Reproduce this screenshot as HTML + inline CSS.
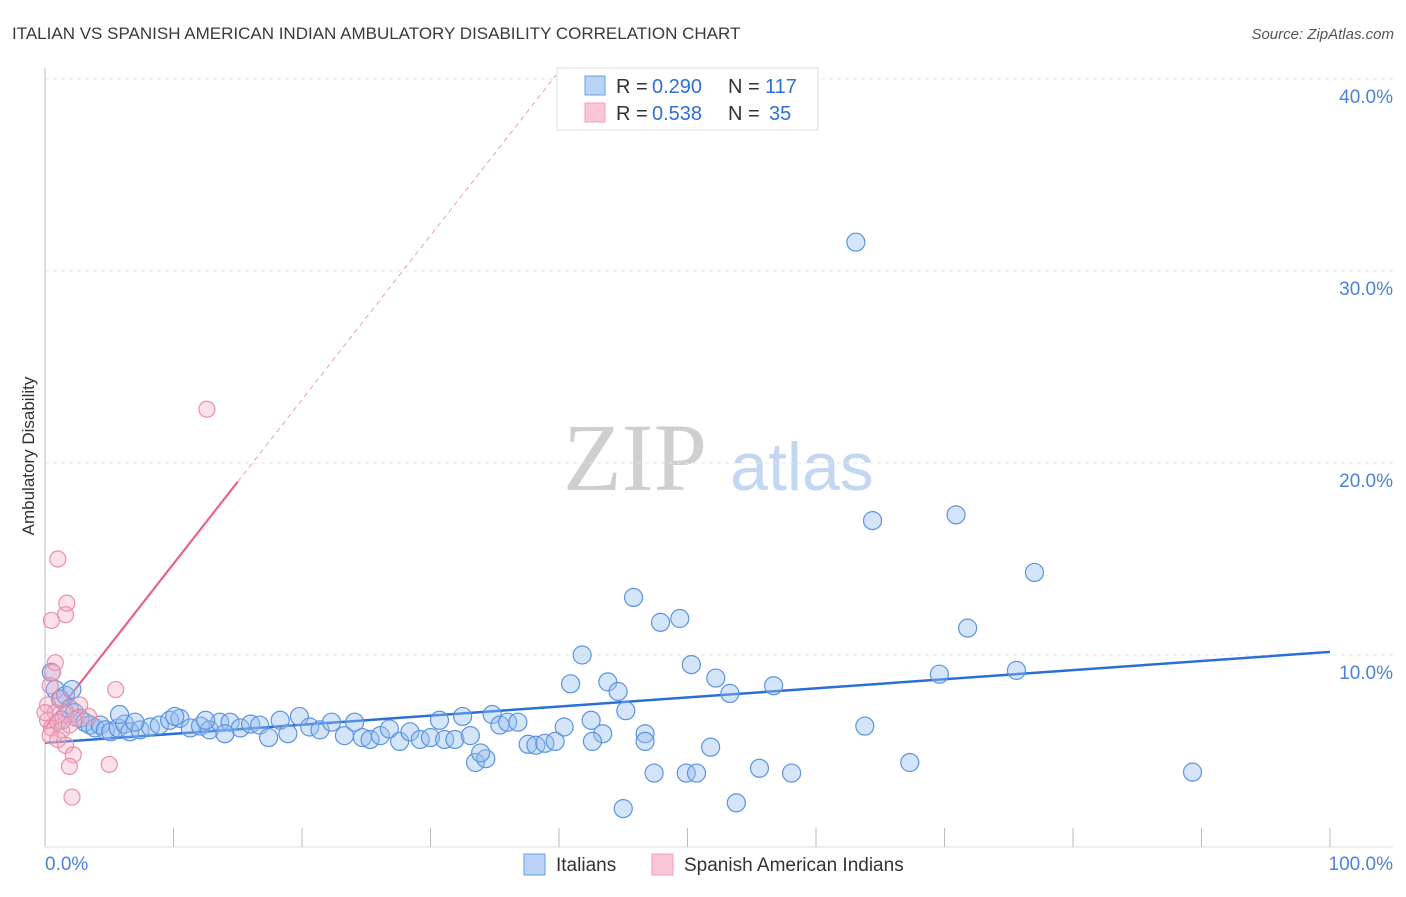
<!DOCTYPE html>
<html><head><meta charset="utf-8">
<style>
body{margin:0;background:#fff;font-family:"Liberation Sans",sans-serif;}
</style></head>
<body>
<svg id="chart" width="1406" height="892" viewBox="0 0 1406 892" font-family="Liberation Sans, sans-serif">
<text x="12" y="39" font-size="17" fill="#3a3a3a">ITALIAN VS SPANISH AMERICAN INDIAN AMBULATORY DISABILITY CORRELATION CHART</text>
<text x="1394" y="39" font-size="15" fill="#555" text-anchor="end" font-style="italic">Source: ZipAtlas.com</text>
<text transform="translate(34,456) rotate(-90)" font-size="17" fill="#333" text-anchor="middle">Ambulatory Disability</text>
<g>
<text x="635" y="490" font-size="96" fill="#cfcfcf" text-anchor="middle" style="font-family:'Liberation Serif',serif">ZIP</text>
<text x="802" y="490" font-size="68" fill="#c4d7f2" text-anchor="middle">atlas</text>
</g>
<g id="grid"></g>
<g id="axes"></g>
<g id="trend"></g>
<g id="points"></g>
<g>
<rect x="557" y="68" width="261" height="62" fill="#fff" stroke="#ddd"/>
<rect x="585" y="76" width="20" height="19" fill="#b8d3f5" stroke="#6a9fe0"/>
<rect x="585" y="103" width="20" height="19" fill="#fac6d6" stroke="#eea0b8"/>
<text x="616" y="93" font-size="20" fill="#333">R =</text>
<text x="652" y="93" font-size="20" fill="#2f6fd6">0.290</text>
<text x="728" y="93" font-size="20" fill="#333">N =</text>
<text x="765" y="93" font-size="20" fill="#2f6fd6">117</text>
<text x="616" y="120" font-size="20" fill="#333">R =</text>
<text x="652" y="120" font-size="20" fill="#2f6fd6">0.538</text>
<text x="728" y="120" font-size="20" fill="#333">N =</text>
<text x="769" y="120" font-size="20" fill="#2f6fd6">35</text>
</g>
<g>
<rect x="524" y="854" width="21" height="21" fill="#b8d3f5" stroke="#6a9fe0"/>
<text x="556" y="871" font-size="19" fill="#333">Italians</text>
<rect x="652" y="854" width="21" height="21" fill="#fac6d6" stroke="#eea0b8"/>
<text x="684" y="871" font-size="19" fill="#333">Spanish American Indians</text>
</g>
</svg>
<script>
const yTicks=[10,20,30,40];
const yTickLabels=["10.0%","20.0%","30.0%","40.0%"];
const xEndLabels=["0.0%","100.0%"];
const blueX=[63.1,64.4,70.9,77.0,71.8,45.8,47.9,49.4,41.8,50.3,52.2,40.9,43.8,44.6,53.3,56.7,69.6,75.6,45.2,63.8,42.5,43.4,42.6,46.7,46.7,51.8,40.4,47.4,49.9,50.7,55.6,58.1,67.3,89.3,45.0,53.8,33.5,34.3,33.9,
0.5,0.8,1.2,1.6,1.9,2.3,2.7,3.1,3.5,3.9,4.3,4.7,5.1,5.7,6.2,6.6,7.4,8.2,8.9,9.7,10.5,11.3,12.1,12.8,13.6,14.4,15.2,16.0,16.7,17.4,18.3,18.9,19.8,20.6,21.4,22.3,23.3,24.1,24.7,25.3,26.1,26.8,27.6,28.4,29.2,30.0,30.7,31.1,31.9,32.5,33.1,34.8,35.4,36.0,36.8,37.6,38.2,38.9,39.7,1.3,2.1,5.8,7.0,10.1,12.5,14.0];
const blueY=[31.5,17.0,17.3,14.3,11.4,13.0,11.7,11.9,10.0,9.5,8.8,8.5,8.6,8.1,8.0,8.4,9.0,9.2,7.1,6.3,6.6,5.9,5.5,5.9,5.5,5.2,6.25,3.85,3.85,3.85,4.1,3.85,4.4,3.9,2.0,2.3,4.4,4.6,4.9,
9.1,8.2,7.7,7.9,7.2,7.0,6.7,6.5,6.35,6.2,6.35,6.1,6.0,6.2,6.4,6.0,6.1,6.25,6.35,6.6,6.7,6.2,6.3,6.1,6.5,6.5,6.2,6.4,6.35,5.7,6.6,5.9,6.8,6.25,6.1,6.5,5.8,6.5,5.7,5.6,5.8,6.15,5.5,6.0,5.6,5.7,6.6,5.6,5.6,6.8,5.8,6.9,6.35,6.5,6.5,5.35,5.3,5.4,5.5,6.6,8.2,6.9,6.5,6.8,6.6,5.9];
const pinkX=[12.6,1.0,1.7,1.6,0.5,0.8,0.6,5.5,0.4,1.2,0.2,0.8,1.6,0.2,0.5,1.0,1.3,1.9,2.4,3.4,0.4,1.6,2.2,1.9,5.0,2.1,1.0,2.7,0.0];
const pinkY=[22.8,15.0,12.7,12.1,11.8,9.6,9.1,8.2,8.4,7.7,7.4,7.0,6.9,6.6,6.2,6.5,6.1,6.35,6.7,6.8,5.8,5.3,4.8,4.2,4.3,2.6,5.6,7.4,7.0];
const blueTrend=[5.42,10.16];
const pinkTrend=[6.2,91.7];
const pinkSolidEnd=15;

const X0=45,X1=1330,Y0=847,PX10=19.2;
const sx=v=>X0+(X1-X0)*v/100;
const sy=v=>Y0-PX10*v;
const NS="http://www.w3.org/2000/svg";
function mk(tag,attrs,parent){const e=document.createElementNS(NS,tag);for(const k in attrs)e.setAttribute(k,attrs[k]);document.getElementById(parent).appendChild(e);return e;}

yTicks.forEach((t,i)=>{
  const l=mk('line',{x1:X0,x2:1393,y1:sy(t),y2:sy(t),stroke:'#e4e4e4','stroke-dasharray':'4,4'},'grid');
  
  
  const tx=mk('text',{x:1393,y:sy(t)+24,'font-size':19,fill:'#4a82dc','text-anchor':'end'},'grid');
  tx.textContent=yTickLabels[i];
  
  
});
const ax=mk('line',{x1:X0,x2:X0,y1:68,y2:Y0,stroke:'#bbb'},'axes');


const bx=mk('line',{x1:X0,x2:1393,y1:Y0,y2:Y0,stroke:'#ddd'},'axes');


for(let i=1;i<=10;i++){
  const t=mk('line',{x1:sx(i*10),x2:sx(i*10),y1:828,y2:Y0,stroke:'#bbb'},'axes');
  
  
}
const xl0=mk('text',{x:45,y:870,'font-size':19,fill:'#4a82dc'},'axes');xl0.textContent=xEndLabels[0];


const xl1=mk('text',{x:1393,y:870,'font-size':19,fill:'#4a82dc','text-anchor':'end'},'axes');xl1.textContent=xEndLabels[1];



const bt=mk('line',{x1:sx(0),y1:sy(blueTrend[0]),x2:sx(100),y2:sy(blueTrend[1]),stroke:'#2a6fd6','stroke-width':2.5},'trend');


const pv=x=>pinkTrend[0]+(pinkTrend[1]-pinkTrend[0])*x/100;
const ps=mk('line',{x1:sx(0),y1:sy(pv(0)),x2:sx(pinkSolidEnd),y2:sy(pv(pinkSolidEnd)),stroke:'#e8628e','stroke-width':2.2},'trend');


const topV=(Y0-75)/PX10;const xEnd=(topV-pinkTrend[0])*100/(pinkTrend[1]-pinkTrend[0]);
const pd=mk('line',{x1:sx(pinkSolidEnd),y1:sy(pv(pinkSolidEnd)),x2:sx(xEnd),y2:sy(topV),stroke:'#e8a0b8','stroke-width':1,'stroke-dasharray':'5,4'},'trend');



blueX.forEach((x,i)=>{
  const c=mk('circle',{cx:sx(x),cy:sy(blueY[i]),r:9,fill:'rgba(150,190,240,0.4)',stroke:'#5b93e0','stroke-width':1.2},'points');
  
  
});
pinkX.forEach((x,i)=>{
  const c=mk('circle',{cx:sx(x),cy:sy(pinkY[i]),r:8,fill:'rgba(245,170,195,0.35)',stroke:'#e890aa','stroke-width':1.2},'points');
  
  
});
</script>
</body></html>
